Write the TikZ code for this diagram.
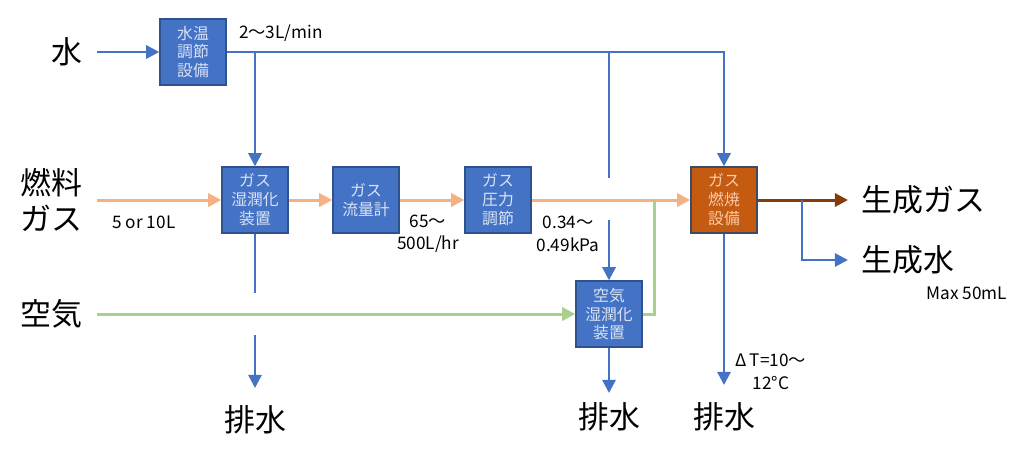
\documentclass[tikz,border=0pt]{standalone}
\usepackage{fontspec}
\setmainfont{Noto Sans CJK JP}
\usetikzlibrary{arrows.meta}
\definecolor{wblue}{HTML}{4472C4}
\definecolor{boxline}{HTML}{2F528F}
\definecolor{boxtext}{HTML}{DAE3F3}
\definecolor{burn}{HTML}{C55A11}
\definecolor{burnline}{HTML}{3E4A66}
\definecolor{burntext}{HTML}{F8CBAD}
\definecolor{fuelc}{HTML}{F4B183}
\definecolor{airc}{HTML}{A9D18E}
\definecolor{prodc}{HTML}{843C0C}
\begin{document}
\begin{tikzpicture}[x=0.02cm, y=-0.02cm,
	>={Triangle[length=7.5pt,width=7.5pt]},
	unit/.style={draw=boxline, fill=wblue, thick, minimum width=1.32cm, minimum height=1.32cm, inner sep=0pt, align=center, text=boxtext, font=\fontsize{9}{10.8}\selectfont},
	src/.style={anchor=east, inner xsep=8pt, align=center, font=\fontsize{17.6}{20}\selectfont},
	product/.style={anchor=west, inner xsep=7.5pt, font=\fontsize{17.6}{20}\selectfont},
	drain/.style={font=\fontsize{17.6}{20}\selectfont},
	note/.style={align=center, font=\fontsize{9.8}{12.8}\selectfont},
	wline/.style={draw=wblue, line width=1.5pt},
	fline/.style={draw=fuelc, line width=1.7pt},
	aline/.style={draw=airc, line width=1.7pt},
	pline/.style={draw=prodc, line width=1.7pt}]
	\useasboundingbox (0,0) rectangle (1024,461);

	\node[src] (water) at (97,52) {水};
	\node[src] (fuel) at (97,200) {燃料\\ガス};
	\node[src] (air) at (97,314) {空気};

	\node[unit] (wt) at (193,52) {水温\\調節\\設備};
	\node[unit] (hum) at (255,200) {ガス\\湿潤化\\装置};
	\node[unit] (flow) at (366,200) {ガス\\流量計};
	\node[unit] (reg) at (498,200) {ガス\\圧力\\調節};
	\node[unit, fill=burn, draw=burnline, text=burntext] (comb) at (724,200) {ガス\\燃焼\\設備};
	\node[unit] (airhum) at (609,314) {空気\\湿潤化\\装置};

	\node[product] (pgas) at (848,200) {生成ガス};
	\node[product] (pwater) at (848,260) {生成水};
	\node[drain] (dr1) at (255,420) {排水};
	\node[drain] (dr2) at (609,417) {排水};
	\node[drain] (dr3) at (724,417) {排水};

	\node[note] (n1) at (281,33) {2〜3L/min};
	\node[note] (n2) at (144,222) {5 or 10L};
	\node[note] (n3) at (428,234) {65〜\\500L/hr};
	\node[note] (n4) at (568,234) {0.34〜\\0.49kPa};
	\node[note] (n5) at (967,293) {Max 50mL};
	\node[note] (n6) at (771,372) {Δ\,T=10〜\\12°C};

	\coordinate (g1) at (609,178);
	\coordinate (g2) at (609,220);
	\coordinate (h1) at (255,293);
	\coordinate (h2) at (255,335);
	\coordinate (h3) at (255,388);
	\coordinate (a1) at (609,393);
	\coordinate (c1) at (724,385);
	\coordinate (gj) at (654,200);
	\coordinate (pb) at (802,200);

	\draw[fline, ->] (fuel.east) -- (hum.west);
	\draw[fline, ->] (hum.east) -- (flow.west);
	\draw[fline, ->] (flow.east) -- (reg.west);
	\draw[fline, ->] (reg.east) -- (comb.west);

	\draw[aline, ->] (air.east) -- (airhum.west);
	\draw[aline] (airhum.east) -| (gj);

	\draw[wline, ->] (water.east) -- (wt.west);
	\draw[wline, ->] (wt.east) -| (comb.north);
	\draw[wline, ->] (hum.north |- wt.east) -- (hum.north);
	\draw[wline] (airhum.north |- wt.east) -- (g1);
	\draw[wline, ->] (g2) -- (airhum.north);
	\draw[wline] (hum.south) -- (h1);
	\draw[wline, ->] (h2) -- (h3);
	\draw[wline, ->] (airhum.south) -- (a1);
	\draw[wline, ->] (comb.south) -- (c1);

	\draw[pline, ->] (comb.east) -- (pgas.west);
	\draw[wline, ->] (pb) |- (pwater.west);
\end{tikzpicture}
\end{document}
